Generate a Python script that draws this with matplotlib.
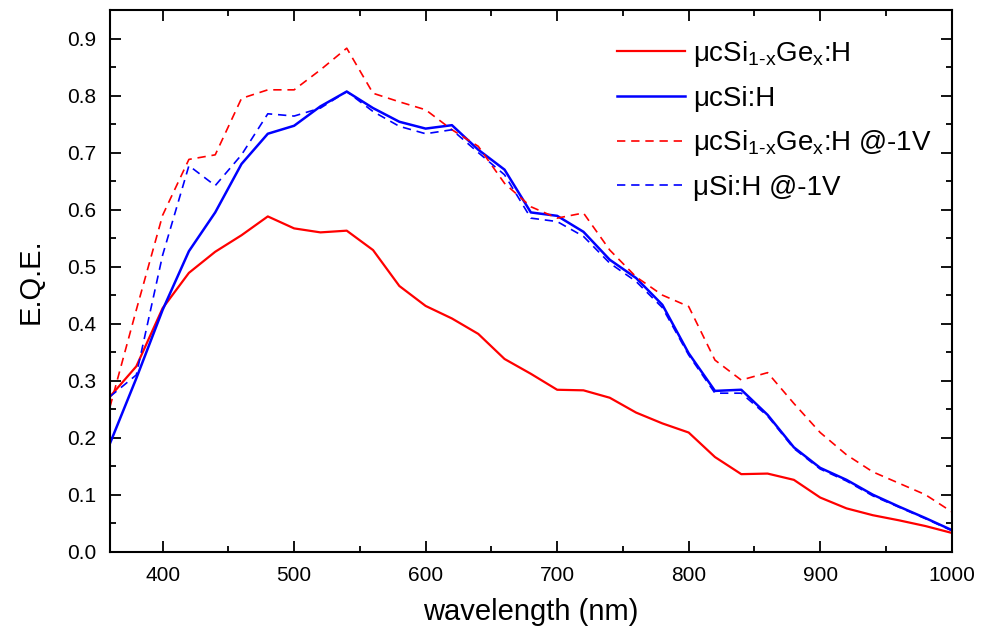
import matplotlib
matplotlib.use("Agg")
import matplotlib.pyplot as plt
from matplotlib.ticker import MultipleLocator

plt.rcParams['font.family'] = ['Liberation Sans', 'DejaVu Sans']
plt.rcParams['mathtext.fontset'] = 'custom'
plt.rcParams['mathtext.rm'] = 'Liberation Sans'
plt.rcParams['mathtext.it'] = 'Liberation Sans'

wavelength = list(range(360, 1001, 20))

sige = [0.272, 0.325, 0.427, 0.489, 0.526, 0.555, 0.588, 0.567, 0.560, 0.563,
        0.529, 0.466, 0.431, 0.409, 0.382, 0.338, 0.312, 0.284, 0.283, 0.270,
        0.244, 0.225, 0.209, 0.166, 0.136, 0.137, 0.126, 0.095, 0.076, 0.064,
        0.055, 0.045, 0.033]

si = [0.190, 0.304, 0.424, 0.527, 0.595, 0.680, 0.733, 0.747, 0.781, 0.807,
      0.778, 0.754, 0.742, 0.748, 0.705, 0.670, 0.595, 0.589, 0.561, 0.512,
      0.480, 0.433, 0.348, 0.282, 0.284, 0.240, 0.183, 0.147, 0.126, 0.100,
      0.079, 0.059, 0.038]

sige_1v = [0.254, 0.424, 0.590, 0.688, 0.696, 0.795, 0.810, 0.810, 0.845, 0.883,
           0.804, 0.789, 0.775, 0.740, 0.711, 0.646, 0.605, 0.585, 0.594, 0.529,
           0.482, 0.450, 0.430, 0.336, 0.301, 0.314, 0.260, 0.209, 0.170, 0.140,
           0.120, 0.100, 0.070]

si_1v = [0.272, 0.310, 0.520, 0.677, 0.642, 0.696, 0.768, 0.764, 0.778, 0.807,
         0.772, 0.746, 0.733, 0.740, 0.700, 0.661, 0.585, 0.579, 0.553, 0.506,
         0.474, 0.428, 0.345, 0.278, 0.278, 0.238, 0.181, 0.145, 0.124, 0.098,
         0.078, 0.058, 0.037]

labels = [r'μcSi$_{\mathregular{1\text{-}x}}$Ge$_{\mathregular{x}}$:H',
          'μcSi:H',
          r'μcSi$_{\mathregular{1\text{-}x}}$Ge$_{\mathregular{x}}$:H @-1V',
          'μSi:H @-1V']

fig = plt.figure(figsize=(9.88, 6.36), dpi=100)
ax = fig.add_axes([110/988, 1-551.7/636, (951.7-110)/988, (551.7-10)/636])

ax.plot(wavelength, sige, color='#ff0000', lw=1.6, label=labels[0])
ax.plot(wavelength, si, color='#0000ff', lw=1.8, label=labels[1])
ax.plot(wavelength, sige_1v, color='#ff0000', lw=1.2, ls=(0, (5, 3.5)), label=labels[2])
ax.plot(wavelength, si_1v, color='#0000ff', lw=1.2, ls=(0, (5, 3.5)), label=labels[3])

ax.set_xlim(360, 1000)
ax.set_ylim(0, 0.95)
ax.xaxis.set_major_locator(MultipleLocator(100))
ax.xaxis.set_minor_locator(MultipleLocator(50))
ax.yaxis.set_minor_locator(MultipleLocator(0.05))
ax.set_yticks([i/10 for i in range(10)])
ax.set_yticklabels([f'{i/10:.1f}' for i in range(10)])
ax.tick_params(which='both', direction='in', top=True, right=True, width=1.3)
ax.tick_params(which='major', length=8, labelsize=15, pad=10)
ax.tick_params(which='minor', length=4)
for s in ax.spines.values():
    s.set_linewidth(1.5)

ax.set_xlabel('wavelength (nm)', fontsize=21, labelpad=10)
ax.set_ylabel('E.Q.E.', fontsize=21, labelpad=16)

leg = ax.legend(loc='upper left', bbox_to_anchor=(617/988, 1-39/636),
                bbox_transform=fig.transFigure, frameon=False, borderpad=0,
                borderaxespad=0, fontsize=20, handlelength=2.45,
                handletextpad=0.3, labelspacing=0.6)

fig.savefig('out.png', dpi=100)
